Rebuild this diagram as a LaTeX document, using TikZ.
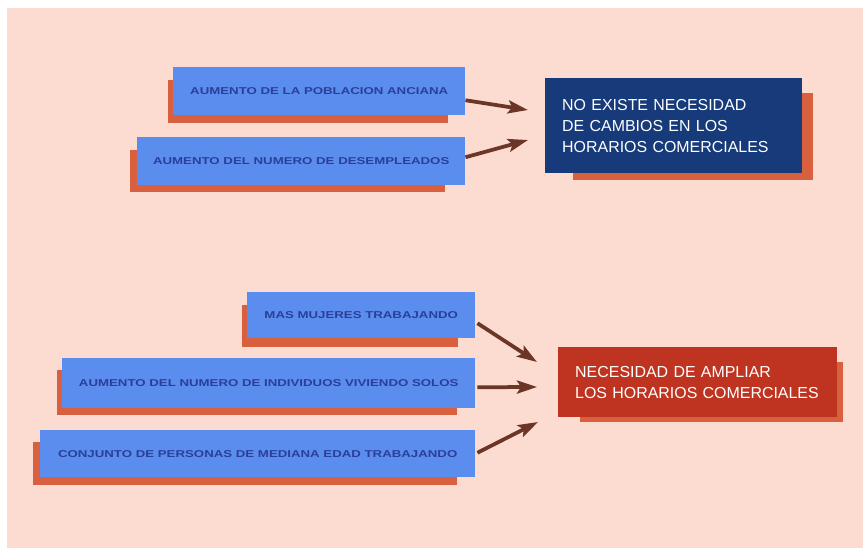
\documentclass[tikz,border=0pt]{standalone}
\usepackage{fontspec}
\setmainfont{Liberation Sans}
\newfontfamily\wideboxfont[FakeStretch=1.33]{Liberation Sans}
\usetikzlibrary{arrows.meta,calc}
\definecolor{bgc}{HTML}{FCDCD0}
\definecolor{bluebox}{HTML}{5B8DEF}
\definecolor{shadowc}{HTML}{D9603F}
\definecolor{smalltext}{HTML}{2A3F99}
\definecolor{darkbox}{HTML}{173A7A}
\definecolor{redbox}{HTML}{BF3420}
\definecolor{arrowc}{HTML}{6B3528}
\def\pu{0.03cm}
\begin{document}
\begin{tikzpicture}[x=0.03cm,y=-0.03cm,
  causebox/.style={fill=bluebox, draw=none, anchor=north west, inner sep=0pt,
    font=\wideboxfont\bfseries\fontsize{8.5}{10}\selectfont, text=smalltext},
  resultbox/.style={draw=none, anchor=north west, inner ysep=0pt, inner xsep=17*\pu,
    align=left, text=white, font=\fontsize{13.6}{17.9}\selectfont},
  shadowbox/.style={fill=shadowc},
  bigarrow/.style={draw=arrowc, line width=3.2pt, -{Stealth[length=20*\pu, width=13*\pu, inset=4*\pu]}, shorten <=0pt}
]
\useasboundingbox (0,0) rectangle (863,548);
\fill[white] (0,0) rectangle (863,548);
\fill[bgc] (7,8) rectangle (863,548);

% shadows
\fill[shadowbox] (168,80) rectangle (448,123);
\fill[shadowbox] (130,150) rectangle (445,192);
\fill[shadowbox] (573,93) rectangle (813,180);
\fill[shadowbox] (580,362) rectangle (843,422);
\fill[shadowbox] (242,305) rectangle (458,347);
\fill[shadowbox] (57,370) rectangle (457,415);
\fill[shadowbox] (33,442) rectangle (457,485);

% cause boxes
\node[causebox, minimum width=292*\pu, minimum height=48*\pu] (b1) at (173,67) {AUMENTO DE LA POBLACION ANCIANA};
\node[causebox, minimum width=328*\pu, minimum height=48*\pu] (b2) at (137,137) {AUMENTO DEL NUMERO DE DESEMPLEADOS};
\node[causebox, minimum width=228*\pu, minimum height=46*\pu] (ba) at (247,292) {MAS MUJERES TRABAJANDO};
\node[causebox, minimum width=413*\pu, minimum height=50*\pu] (bb) at (62,358) {AUMENTO DEL NUMERO DE INDIVIDUOS VIVIENDO SOLOS};
\node[causebox, minimum width=435*\pu, minimum height=47*\pu] (bc) at (40,430) {CONJUNTO DE PERSONAS DE MEDIANA EDAD TRABAJANDO};

% result boxes
\node[resultbox, fill=darkbox, minimum width=257*\pu, minimum height=95*\pu, text width=223*\pu] (no) at (545,78)
  {NO EXISTE NECESIDAD\\DE CAMBIOS EN LOS\\HORARIOS COMERCIALES};
\node[resultbox, fill=redbox, minimum width=279*\pu, minimum height=70*\pu, text width=245*\pu] (si) at (558,347)
  {NECESIDAD DE AMPLIAR\\LOS HORARIOS COMERCIALES};

% arrow ends
\coordinate (e1) at (528,110);
\coordinate (e2) at (528,140);
\coordinate (ea) at (537,362);
\coordinate (eb) at (537,387);
\coordinate (ec) at (538,422);

\draw[bigarrow] ($(b1.east)+(0,9)$) -- (e1);
\draw[bigarrow] ($(b2.east)+(0,-4)$) -- (e2);
\draw[bigarrow] ($(ba.east)+(2,8)$) -- (ea);
\draw[bigarrow] ($(bb.east)+(2,4)$) -- (eb);
\draw[bigarrow] ($(bc.east)+(2,-1)$) -- (ec);
\end{tikzpicture}
\end{document}
